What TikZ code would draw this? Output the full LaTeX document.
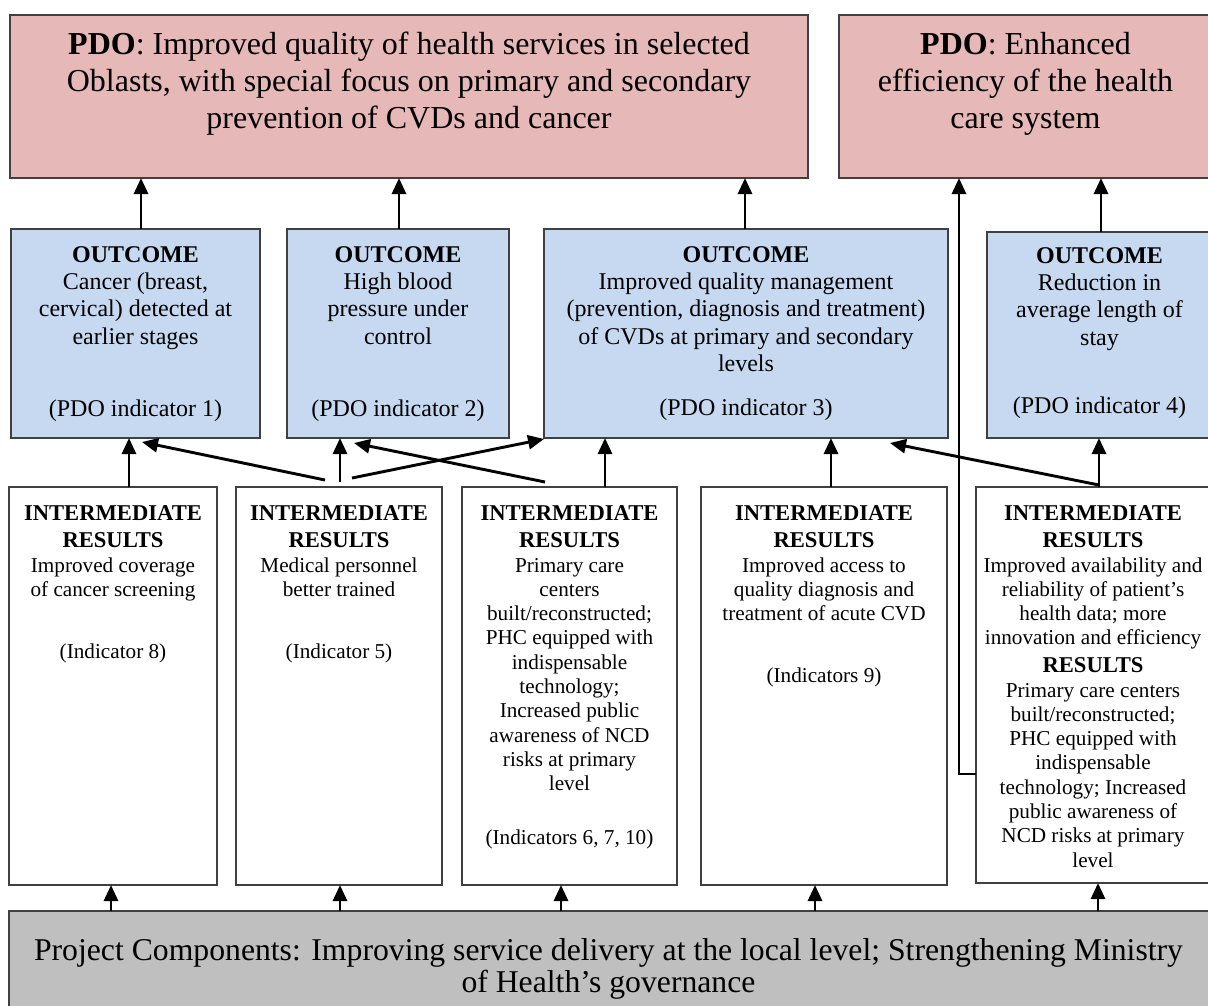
\documentclass[tikz,border=0pt]{standalone}
\usepackage{fontspec}
\setmainfont{Liberation Serif}
\usetikzlibrary{arrows.meta}
\definecolor{pdofill}{RGB}{230,185,184}
\definecolor{outfill}{RGB}{198,217,241}
\definecolor{pcfill}{RGB}{191,191,191}
\definecolor{edgecol}{RGB}{64,64,64}
\newcommand{\mlines}[1]{\begin{tabular}[t]{@{}c@{}}#1\end{tabular}}
\begin{document}
\begin{tikzpicture}[x=1pt,y=-1pt,
  boxbase/.style={draw=edgecol, line width=1.3pt, rectangle, inner sep=0pt, outer sep=0pt},
  pdobox/.style={boxbase, fill=pdofill},
  outbox/.style={boxbase, fill=outfill},
  irbox/.style={boxbase, fill=white},
  pcbox/.style={boxbase, fill=pcfill},
  txt/.style={anchor=base, inner sep=0pt, outer sep=0pt, text=black},
  pdotxt/.style={txt, font=\fontsize{32}{37}\selectfont},
  outtxt/.style={txt, font=\fontsize{24}{27.4}\selectfont},
  irhead/.style={txt, font=\fontsize{22.6}{27}\selectfont\bfseries},
  irtxt/.style={txt, font=\fontsize{21.2}{24.3}\selectfont},
  pctxt/.style={txt, font=\fontsize{31.7}{32}\selectfont},
  arr/.style={line width=2.9pt, -{Triangle[length=16pt,width=14pt]}},
]
\useasboundingbox (0,0) rectangle (1208,1005);
\clip (0,0) rectangle (1208,1005);

% ---- boxes
\node[pdobox, minimum width=798pt, minimum height=163pt] (pdo1) at (409,96.5) {};
\node[pdobox, minimum width=373pt, minimum height=163pt] (pdo2) at (1025.5,96.5) {};
\node[outbox, minimum width=249pt, minimum height=209pt] (o1) at (135.5,333.5) {};
\node[outbox, minimum width=222pt, minimum height=209pt] (o2) at (398,333.5) {};
\node[outbox, minimum width=404pt, minimum height=209pt] (o3) at (746,333.5) {};
\node[outbox, minimum width=225pt, minimum height=206pt] (o4) at (1099.5,335) {};
\node[irbox, minimum width=208pt, minimum height=398pt] (ir1) at (113,686) {};
\node[irbox, minimum width=206pt, minimum height=398pt] (ir2) at (339,686) {};
\node[irbox, minimum width=215pt, minimum height=398pt] (ir3) at (569.5,686) {};
\node[irbox, minimum width=246pt, minimum height=398pt] (ir4) at (824,686) {};
\node[irbox, minimum width=234pt, minimum height=396pt] (ir5) at (1093,685) {};
\node[pcbox, minimum width=1201pt, minimum height=129pt] (pc) at (609.5,975.5) {};

% ---- texts
\node[pdotxt] (pdo1t) at (409,54) {\mlines{\textbf{PDO}: Improved quality of health services in selected\\Oblasts, with special focus on primary and secondary\\prevention of CVDs and cancer}};
\node[pdotxt] (pdo2t) at (1025.5,54) {\mlines{\textbf{PDO}: Enhanced\\efficiency of the health\\care system}};

\node[outtxt] (o1t) at (135.5,262) {\mlines{\textbf{OUTCOME}\\Cancer (breast,\\cervical) detected at\\earlier stages}};
\node[outtxt] (o1i) at (135.5,416) {(PDO indicator 1)};
\node[outtxt] (o2t) at (398,262) {\mlines{\textbf{OUTCOME}\\High blood\\pressure under\\control}};
\node[outtxt] (o2i) at (398,416) {(PDO indicator 2)};
\node[outtxt] (o3t) at (746,262) {\mlines{\textbf{OUTCOME}\\Improved quality management\\(prevention, diagnosis and treatment)\\of CVDs at primary and secondary\\levels}};
\node[outtxt] (o3i) at (746,415) {(PDO indicator 3)};
\node[outtxt] (o4t) at (1099.5,263) {\mlines{\textbf{OUTCOME}\\Reduction in\\average length of\\stay}};
\node[outtxt] (o4i) at (1099.5,413) {(PDO indicator 4)};

\node[irhead] (ir1h) at (113,520) {\mlines{INTERMEDIATE\\RESULTS}};
\node[irtxt] (ir1b) at (113,572) {\mlines{Improved coverage\\of cancer screening}};
\node[irtxt] (ir1i) at (113,658) {(Indicator 8)};

\node[irhead] (ir2h) at (339,520) {\mlines{INTERMEDIATE\\RESULTS}};
\node[irtxt] (ir2b) at (339,572) {\mlines{Medical personnel\\better trained}};
\node[irtxt] (ir2i) at (339,658) {(Indicator 5)};

\node[irhead] (ir3h) at (569.5,520) {\mlines{INTERMEDIATE\\RESULTS}};
\node[irtxt] (ir3b) at (569.5,572) {\mlines{Primary care\\centers\\built/reconstructed;\\PHC equipped with\\indispensable\\technology;\\Increased public\\awareness of NCD\\risks at primary\\level}};
\node[irtxt] (ir3i) at (569.5,844) {(Indicators 6, 7, 10)};

\node[irhead] (ir4h) at (824,520) {\mlines{INTERMEDIATE\\RESULTS}};
\node[irtxt] (ir4b) at (824,572) {\mlines{Improved access to\\quality diagnosis and\\treatment of acute CVD}};
\node[irtxt] (ir4i) at (824,682) {(Indicators 9)};

\node[irhead] (ir5h) at (1093,520) {\mlines{INTERMEDIATE\\RESULTS}};
\node[irtxt] (ir5b) at (1093,572) {\mlines{Improved availability and\\reliability of patient’s\\health data; more\\innovation and efficiency}};
\node[irhead] (ir5h2) at (1093,672) {RESULTS};
\node[irtxt] (ir5c) at (1093,697) {\mlines{Primary care centers\\built/reconstructed;\\PHC equipped with\\indispensable\\technology; Increased\\public awareness of\\NCD risks at primary\\level}};

\node[pctxt] (pct) at (608.5,960) {\mlines{Project Components: Improving service delivery at the local level; Strengthening Ministry\\of Health’s governance}};

% ---- connector anchor points
\coordinate (ao1) at ([xshift=5.5pt]o1.north);
\coordinate (ao2) at ([xshift=1pt]o2.north);
\coordinate (ao3) at ([xshift=-1pt]o3.north);
\coordinate (ao4) at ([xshift=1.5pt]o4.north);
\coordinate (bi1) at ([xshift=16pt]ir1.north);
\coordinate (bi2) at ([xshift=1pt,yshift=5pt]ir2.north);
\coordinate (bi3) at ([xshift=35.5pt]ir3.north);
\coordinate (bi4) at ([xshift=7pt]ir4.north);
\coordinate (bi5) at ([xshift=6pt]ir5.north);
\coordinate (ir5l) at ([yshift=-89pt]ir5.west);
\coordinate (elb) at ([xshift=-17pt]ir5l);
\coordinate (ci1) at ([xshift=-2pt]ir1.south);
\coordinate (ci2) at ([xshift=1pt]ir2.south);
\coordinate (ci3) at ([xshift=-8.5pt]ir3.south);
\coordinate (ci4) at ([xshift=-9pt]ir4.south);
\coordinate (ci5) at ([xshift=5pt]ir5.south);

% ---- outcome -> PDO
\draw[arr] (ao1) -- (ao1 |- pdo1.south);
\draw[arr] (ao2) -- (ao2 |- pdo1.south);
\draw[arr] (ao3) -- (ao3 |- pdo1.south);
\draw[arr] (ao4) -- (ao4 |- pdo2.south);

% ---- IR -> outcome
\draw[arr] (bi1) -- (bi1 |- o1.south);
\draw[arr] (bi2) -- (bi2 |- o2.south);
\draw[arr] (bi3) -- (bi3 |- o3.south);
\draw[arr] (bi4) -- (bi4 |- o3.south);
\draw[arr] (bi5) -- (bi5 |- o4.south);
\draw[arr] ([xshift=-14pt,yshift=7pt]ir2.north) -- ([xshift=6.5pt,yshift=-4pt]o1.south);
\draw[arr] ([xshift=13pt,yshift=9pt]ir2.north) -- ([yshift=-1pt]o3.south west);
\draw[arr] ([xshift=-24.5pt,yshift=5pt]ir3.north) -- ([xshift=-44pt,yshift=-5pt]o2.south);
\draw[arr] ([xshift=6pt,yshift=2pt]ir5.north) -- ([xshift=144pt,yshift=-5pt]o3.south);
\draw[arr] (ir5l) -- (elb) -- (elb |- pdo2.south);

% ---- project -> IR
\draw[arr] (ci1 |- pc.north) -- (ci1);
\draw[arr] (ci2 |- pc.north) -- (ci2);
\draw[arr] (ci3 |- pc.north) -- (ci3);
\draw[arr] (ci4 |- pc.north) -- (ci4);
\draw[arr] (ci5 |- pc.north) -- (ci5);
\end{tikzpicture}
\end{document}
